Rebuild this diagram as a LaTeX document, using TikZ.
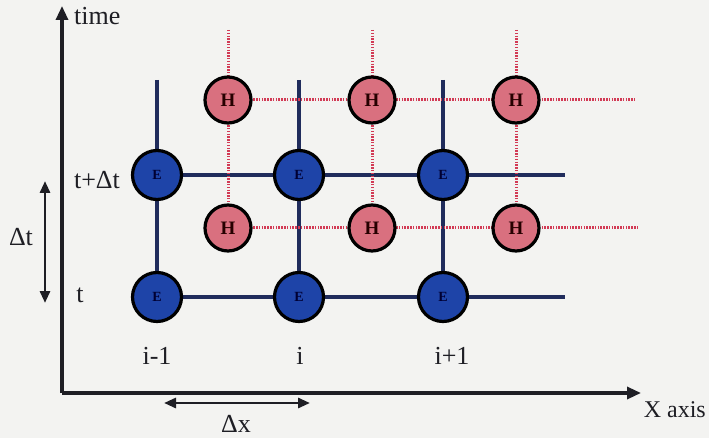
\documentclass[tikz,border=0pt]{standalone}
\usepackage{fontspec}
\setmainfont{Liberation Serif}
\usetikzlibrary{arrows.meta,backgrounds}
\definecolor{efill}{HTML}{1E44A8}
\definecolor{hfill}{HTML}{D9707F}
\definecolor{gridblue}{HTML}{202C5C}
\definecolor{dotred}{HTML}{D23A55}
\definecolor{axisc}{HTML}{1E1E24}
\definecolor{bgc}{HTML}{F3F3F1}
\tikzset{
  enode/.style={circle, draw=black, line width=3.2pt, fill=efill, minimum size=49pt, inner sep=0pt, font=\fontsize{14}{14}\selectfont\bfseries, text=black!80!blue},
  hnode/.style={circle, draw=black, line width=3.2pt, fill=hfill, minimum size=46pt, inner sep=0pt, font=\fontsize{19}{19}\selectfont\bfseries, text=black!85!red},
  bline/.style={draw=gridblue, line width=3.2pt},
  rline/.style={draw=dotred, line width=3pt, dash pattern=on 1.5pt off 1.3pt},
  axis/.style={draw=axisc, line width=3.2pt, -{Triangle[length=14pt,width=12pt]}},
  darrow/.style={draw=axisc, line width=2.8pt, {Triangle[length=12pt,width=10pt]}-{Triangle[length=12pt,width=10pt]}},
  lab/.style={font=\fontsize{26}{26}\selectfont, text=axisc, inner sep=0pt}
}
\begin{document}
\begin{tikzpicture}[x=1pt,y=-1pt]
\useasboundingbox (0,0) rectangle (709,438);
% E nodes
\node[enode] (Et1) at (157,175) {E};
\node[enode] (Et2) at (299,175) {E};
\node[enode] (Et3) at (443,175) {E};
\node[enode] (Eb1) at (157,297) {E};
\node[enode] (Eb2) at (299,297) {E};
\node[enode] (Eb3) at (443,297) {E};
% H nodes
\node[hnode] (Ht1) at (228,100) {H};
\node[hnode] (Ht2) at (372,100) {H};
\node[hnode] (Ht3) at (516,100) {H};
\node[hnode] (Hb1) at (228,228) {H};
\node[hnode] (Hb2) at (372,228) {H};
\node[hnode] (Hb3) at (516,228) {H};
% free ends
\coordinate (vb1) at (157,80);
\coordinate (vb2) at (299,80);
\coordinate (vb3) at (443,80);
\coordinate (hbt) at (565,175);
\coordinate (hbb) at (565,297);
\coordinate (vr1) at (228,30);
\coordinate (vr2) at (372,30);
\coordinate (vr3) at (516,30);
\coordinate (hrt) at (635,100);
\coordinate (hrb) at (637,228);
\begin{scope}[on background layer]
\fill[bgc] (0,0) rectangle (709,438);
\draw[bline] (vb1) -- (Eb1.center);
\draw[bline] (vb2) -- (Eb2.center);
\draw[bline] (vb3) -- (Eb3.center);
\draw[bline] (Et1.center) -- (hbt);
\draw[bline] (Eb1.center) -- (hbb);
\draw[rline] (vr1) -- (Hb1.center);
\draw[rline] (vr2) -- (Hb2.center);
\draw[rline] (vr3) -- (Hb3.center);
\draw[rline] (Ht1.center) -- (hrt);
\draw[rline] (Hb1.center) -- (hrb);
\end{scope}
% axes
\coordinate (origin) at (62,393);
\coordinate (ytip) at (62,6);
\coordinate (xtip) at (641,393);
\draw[axis] (origin) -- (ytip);
\draw[axis] (origin) -- (xtip);
\node[lab, anchor=west] (time) at (74,16) {time};
\node[lab, anchor=east, font=\fontsize{24}{24}\selectfont] (xaxis) at (706,410) {X axis};
% delta arrows
\coordinate (dt1) at (45,181);
\coordinate (dt2) at (45,303);
\draw[darrow] (dt1) -- (dt2);
\node[lab] (dtl) at (21,237) {Δt};
\coordinate (dx1) at (164,403);
\coordinate (dx2) at (310,403);
\draw[darrow] (dx1) -- (dx2);
\node[lab, anchor=base] (dxl) at (236,432) {Δx};
% labels
\node[lab] (ltdt) at (97,180) {t+Δt};
\node[lab] (lt) at (80,295) {t};
\node[lab] (li1) at (157,356) {i-1};
\node[lab] (li2) at (300,356) {i};
\node[lab] (li3) at (452,356) {i+1};
\end{tikzpicture}
\end{document}
